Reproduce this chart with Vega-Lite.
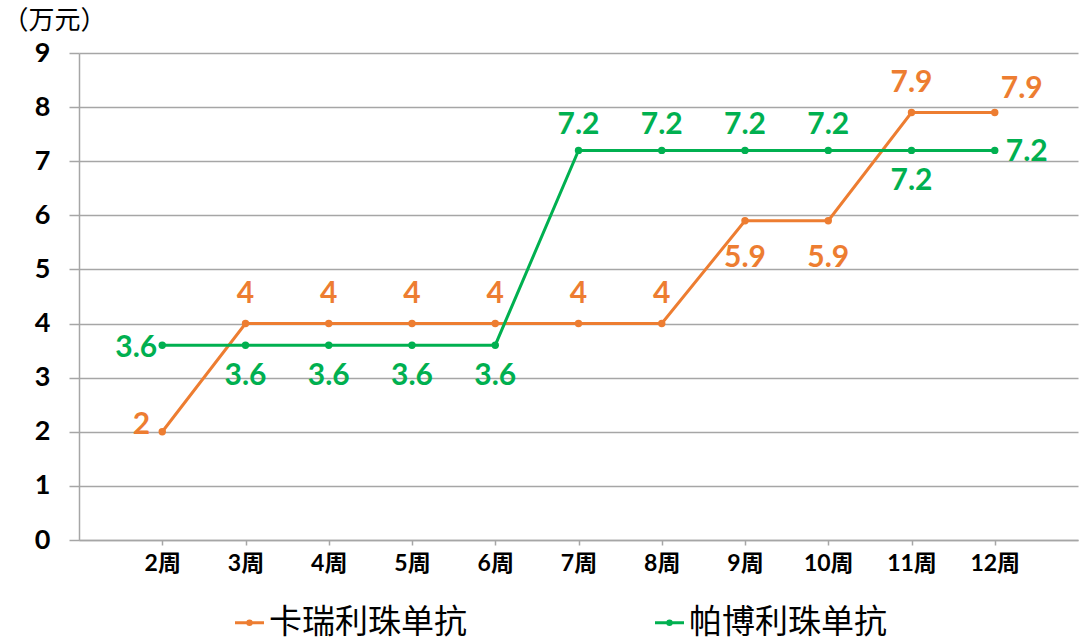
{
  "$schema": "https://vega.github.io/schema/vega-lite/v6.json",
  "width": 999,
  "height": 487,
  "autosize": "none",
  "padding": {"left": 79, "top": 53, "right": 2, "bottom": 104},
  "background": "white",
  "config": {
    "view": {"stroke": null},
    "font": "Lato, Noto Sans CJK SC"
  },
  "data": {
    "values": [
      {"week": "2周", "series": "卡瑞利珠单抗", "value": 2},
      {"week": "3周", "series": "卡瑞利珠单抗", "value": 4},
      {"week": "4周", "series": "卡瑞利珠单抗", "value": 4},
      {"week": "5周", "series": "卡瑞利珠单抗", "value": 4},
      {"week": "6周", "series": "卡瑞利珠单抗", "value": 4},
      {"week": "7周", "series": "卡瑞利珠单抗", "value": 4},
      {"week": "8周", "series": "卡瑞利珠单抗", "value": 4},
      {"week": "9周", "series": "卡瑞利珠单抗", "value": 5.9},
      {"week": "10周", "series": "卡瑞利珠单抗", "value": 5.9},
      {"week": "11周", "series": "卡瑞利珠单抗", "value": 7.9},
      {"week": "12周", "series": "卡瑞利珠单抗", "value": 7.9},
      {"week": "2周", "series": "帕博利珠单抗", "value": 3.6},
      {"week": "3周", "series": "帕博利珠单抗", "value": 3.6},
      {"week": "4周", "series": "帕博利珠单抗", "value": 3.6},
      {"week": "5周", "series": "帕博利珠单抗", "value": 3.6},
      {"week": "6周", "series": "帕博利珠单抗", "value": 3.6},
      {"week": "7周", "series": "帕博利珠单抗", "value": 7.2},
      {"week": "8周", "series": "帕博利珠单抗", "value": 7.2},
      {"week": "9周", "series": "帕博利珠单抗", "value": 7.2},
      {"week": "10周", "series": "帕博利珠单抗", "value": 7.2},
      {"week": "11周", "series": "帕博利珠单抗", "value": 7.2},
      {"week": "12周", "series": "帕博利珠单抗", "value": 7.2}
    ]
  },
  "encoding": {
    "x": {
      "field": "week",
      "type": "ordinal",
      "sort": ["2周", "3周", "4周", "5周", "6周", "7周", "8周", "9周", "10周", "11周", "12周"],
      "scale": {"type": "point", "padding": 1},
      "axis": {
        "title": null,
        "labelAngle": 0,
        "labelFont": "Lato, Noto Sans CJK SC",
        "labelFontSize": 23,
        "labelFontWeight": "bold",
        "labelColor": "#000000",
        "labelPadding": 7,
        "domainColor": "#A6A6A6",
        "domainWidth": 1.5,
        "tickColor": "#A6A6A6",
        "tickWidth": 1.5,
        "tickSize": 5,
        "grid": false
      }
    },
    "y": {
      "field": "value",
      "type": "quantitative",
      "scale": {"domain": [0, 9], "nice": false},
      "axis": {
        "values": [0, 1, 2, 3, 4, 5, 6, 7, 8, 9],
        "title": "（万元）",
        "titleAngle": 0,
        "titleAlign": "left",
        "titleBaseline": "top",
        "titleX": -77,
        "titleY": -46,
        "titleFont": "Noto Sans CJK SC",
        "titleFontSize": 26,
        "titleFontWeight": "normal",
        "titleColor": "#000000",
        "labelFont": "Lato",
        "labelFontSize": 27,
        "labelFontWeight": "bold",
        "labelColor": "#000000",
        "labelPadding": 19,
        "domainColor": "#A6A6A6",
        "domainWidth": 1.5,
        "tickColor": "#A6A6A6",
        "tickWidth": 1.5,
        "tickSize": 10,
        "grid": true,
        "gridColor": "#A6A6A6",
        "gridWidth": 1.5
      }
    },
    "color": {
      "field": "series",
      "type": "nominal",
      "scale": {"domain": ["卡瑞利珠单抗", "帕博利珠单抗"], "range": ["#ED7D31", "#00B050"]},
      "legend": {
        "orient": "none",
        "legendX": 154,
        "legendY": 553,
        "direction": "horizontal",
        "title": null,
        "labelFont": "Noto Sans CJK SC",
        "labelFontSize": 33,
        "labelLimit": 400,
        "labelColor": "#000000",
        "labelOffset": 3,
        "columnPadding": 182,
        "symbolType": "M-1,0L1,0M-0.12,0A0.12,0.12,0,1,1,0.12,0A0.12,0.12,0,1,1,-0.12,0",
        "symbolSize": 841,
        "symbolStrokeWidth": 3,
        "encode": {
          "symbols": {
            "update": {
              "stroke": {"scale": "color", "field": "value"},
              "fill": {"scale": "color", "field": "value"},
              "strokeWidth": {"value": 3},
              "opacity": {"value": 1}
            }
          }
        }
      }
    }
  },
  "layer": [
    {"mark": {"type": "line", "strokeWidth": 3}},
    {"mark": {"type": "point", "filled": true, "size": 55, "opacity": 1}},
    {
      "transform": [{"filter": {"and": [{"field": "series", "equal": "卡瑞利珠单抗"}, {"field": "week", "oneOf": ["3周", "4周", "5周", "6周", "7周", "8周", "11周"]}]}}],
      "mark": {"type": "text", "fontSize": 30, "fontWeight": "bold", "font": "Lato", "baseline": "middle", "align": "center", "dy": -30},
      "encoding": {"text": {"field": "value", "type": "quantitative"}}
    },
    {
      "transform": [{"filter": {"and": [{"field": "series", "equal": "卡瑞利珠单抗"}, {"field": "week", "oneOf": ["9周", "10周"]}]}}],
      "mark": {"type": "text", "fontSize": 30, "fontWeight": "bold", "font": "Lato", "baseline": "middle", "align": "center", "dy": 37},
      "encoding": {"text": {"field": "value", "type": "quantitative"}}
    },
    {
      "transform": [{"filter": {"and": [{"field": "series", "equal": "卡瑞利珠单抗"}, {"field": "week", "equal": "2周"}]}}],
      "mark": {"type": "text", "fontSize": 30, "fontWeight": "bold", "font": "Lato", "baseline": "middle", "align": "right", "dx": -12, "dy": -7},
      "encoding": {"text": {"field": "value", "type": "quantitative"}}
    },
    {
      "transform": [{"filter": {"and": [{"field": "series", "equal": "卡瑞利珠单抗"}, {"field": "week", "equal": "12周"}]}}],
      "mark": {"type": "text", "fontSize": 30, "fontWeight": "bold", "font": "Lato", "baseline": "middle", "align": "left", "dx": 6, "dy": -24},
      "encoding": {"text": {"field": "value", "type": "quantitative"}}
    },
    {
      "transform": [{"filter": {"and": [{"field": "series", "equal": "帕博利珠单抗"}, {"field": "week", "oneOf": ["7周", "8周", "9周", "10周"]}]}}],
      "mark": {"type": "text", "fontSize": 30, "fontWeight": "bold", "font": "Lato", "baseline": "middle", "align": "center", "dy": -25},
      "encoding": {"text": {"field": "value", "type": "quantitative"}}
    },
    {
      "transform": [{"filter": {"and": [{"field": "series", "equal": "帕博利珠单抗"}, {"field": "week", "oneOf": ["3周", "4周", "5周", "6周", "11周"]}]}}],
      "mark": {"type": "text", "fontSize": 30, "fontWeight": "bold", "font": "Lato", "baseline": "middle", "align": "center", "dy": 31},
      "encoding": {"text": {"field": "value", "type": "quantitative"}}
    },
    {
      "transform": [{"filter": {"and": [{"field": "series", "equal": "帕博利珠单抗"}, {"field": "week", "equal": "2周"}]}}],
      "mark": {"type": "text", "fontSize": 30, "fontWeight": "bold", "font": "Lato", "baseline": "middle", "align": "right", "dx": -5, "dy": 3},
      "encoding": {"text": {"field": "value", "type": "quantitative"}}
    },
    {
      "transform": [{"filter": {"and": [{"field": "series", "equal": "帕博利珠单抗"}, {"field": "week", "equal": "12周"}]}}],
      "mark": {"type": "text", "fontSize": 30, "fontWeight": "bold", "font": "Lato", "baseline": "middle", "align": "left", "dx": 11, "dy": 2},
      "encoding": {"text": {"field": "value", "type": "quantitative"}}
    }
  ]
}
